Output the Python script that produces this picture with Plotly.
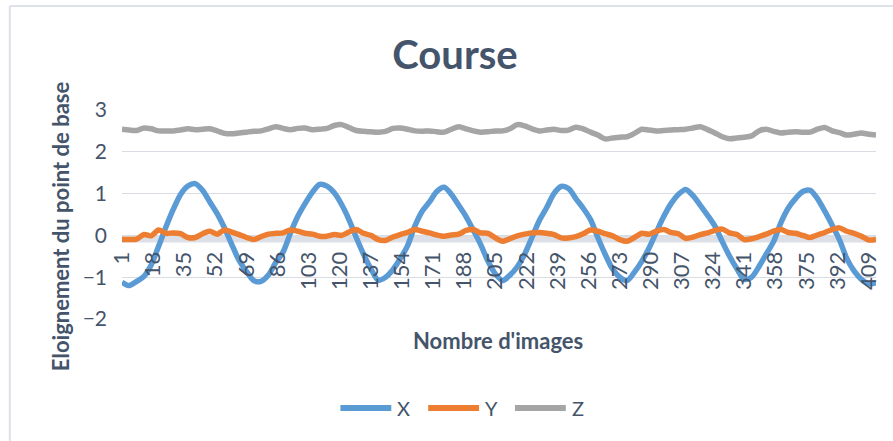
import plotly.graph_objects as go

# Frame numbers (sampled every 4 images) and tick labels of the category axis
frames = list(range(1, 414, 4))
tick_labels = list(range(1, 410, 17))

# Distance to the base point for each axis
x_vals = [
    -1.12, -1.20, -1.10, -0.98, -0.70, -0.26, 0.20, 0.62, 0.98, 1.18,
    1.24, 1.08, 0.80, 0.52, 0.18, -0.22, -0.60, -0.86, -1.08, -1.10,
    -0.95, -0.65, -0.40, 0.05, 0.45, 0.76, 1.03, 1.22, 1.18, 1.02,
    0.74, 0.38, -0.05, -0.45, -0.80, -1.07, -1.00, -0.82, -0.56, -0.25,
    0.22, 0.58, 0.80, 1.05, 1.15, 0.98, 0.72, 0.45, 0.12, -0.22,
    -0.62, -0.92, -1.08, -0.95, -0.75, -0.45, -0.05, 0.35, 0.66, 1.00,
    1.17, 1.12, 0.88, 0.65, 0.38, -0.05, -0.45, -0.80, -1.00, -1.08,
    -0.88, -0.62, -0.30, 0.08, 0.45, 0.76, 0.98, 1.10, 0.95, 0.72,
    0.48, 0.22, -0.15, -0.50, -0.80, -1.05, -1.00, -0.75, -0.45, -0.15,
    0.30, 0.65, 0.88, 1.05, 1.08, 0.88, 0.58, 0.25, -0.10, -0.55,
    -0.85, -1.05, -1.16, -1.13,
]
y_vals = [
    -0.10, -0.10, -0.09, 0.02, -0.01, 0.13, 0.05, 0.06, 0.04, -0.05,
    -0.05, 0.04, 0.10, 0.03, 0.13, 0.08, 0.02, -0.05, -0.10, -0.03,
    0.03, 0.05, 0.06, 0.13, 0.10, 0.05, 0.03, -0.02, -0.02, 0.02,
    0.00, 0.08, 0.14, 0.05, 0.00, -0.10, -0.12, -0.04, 0.02, 0.07,
    0.14, 0.10, 0.06, 0.01, -0.02, 0.01, 0.03, 0.12, 0.14, 0.06,
    0.05, -0.06, -0.14, -0.08, -0.01, 0.03, 0.06, 0.07, 0.05, 0.02,
    -0.06, -0.06, -0.03, 0.04, 0.13, 0.10, 0.04, -0.01, -0.10, -0.14,
    -0.05, 0.05, 0.03, 0.10, 0.14, 0.07, 0.04, -0.07, -0.04, 0.02,
    0.06, 0.12, 0.15, 0.06, 0.02, -0.10, -0.08, -0.03, 0.03, 0.10,
    0.14, 0.07, 0.05, 0.00, -0.05, 0.01, 0.07, 0.14, 0.18, 0.10,
    0.05, -0.02, -0.11, -0.10,
]
z_vals = [
    2.54, 2.52, 2.51, 2.57, 2.55, 2.50, 2.50, 2.50, 2.52, 2.55,
    2.53, 2.54, 2.55, 2.50, 2.44, 2.43, 2.45, 2.47, 2.49, 2.50,
    2.55, 2.60, 2.56, 2.53, 2.56, 2.57, 2.53, 2.54, 2.56, 2.63,
    2.65, 2.58, 2.51, 2.49, 2.48, 2.47, 2.49, 2.56, 2.57, 2.54,
    2.50, 2.49, 2.50, 2.48, 2.47, 2.54, 2.60, 2.55, 2.50, 2.47,
    2.48, 2.50, 2.50, 2.55, 2.65, 2.62, 2.55, 2.50, 2.52, 2.54,
    2.51, 2.52, 2.59, 2.55, 2.47, 2.40, 2.31, 2.33, 2.35, 2.36,
    2.44, 2.54, 2.52, 2.50, 2.51, 2.52, 2.53, 2.54, 2.57, 2.60,
    2.53, 2.45, 2.36, 2.31, 2.33, 2.35, 2.38, 2.50, 2.54, 2.49,
    2.45, 2.47, 2.48, 2.47, 2.47, 2.54, 2.58, 2.50, 2.46, 2.40,
    2.42, 2.45, 2.42, 2.40,
]

series_names = ["X", "Y", "Z"]
series_colors = ["#5B9BD5", "#ED7D31", "#A5A5A5"]
series_values = [x_vals, y_vals, z_vals]

W, H = 893, 441
L, R, T, B = 122, 15, 110, 122
TEXT = "#44546A"
GRID = "#D9DCE3"
FONT = "Lato"

fig = go.Figure()
for name, vals, color in zip(series_names, series_values, series_colors):
    fig.add_trace(go.Scatter(
        x=frames, y=vals, name=name, mode="lines", showlegend=False,
        line=dict(color=color, width=5.5, shape="spline", smoothing=0.8),
    ))

pw = W - L - R
ph = H - T - B


def px_x(p):
    return (p - L) / pw


def px_y(p):
    return (H - B - p) / ph


shapes = [
    # band along the horizontal axis at zero
    dict(type="rect", xref="paper", yref="y", x0=0, x1=1, y0=-0.17, y1=0,
         fillcolor="#DCE0E6", line=dict(width=0), layer="below"),
    # chart frame (top and left edges)
    dict(type="line", xref="paper", yref="paper", x0=px_x(9.5), x1=px_x(W + 20),
         y0=px_y(6), y1=px_y(6), line=dict(color="#DDE1E8", width=2)),
    dict(type="line", xref="paper", yref="paper", x0=px_x(9.5), x1=px_x(9.5),
         y0=px_y(6), y1=px_y(H + 20), line=dict(color="#DDE1E8", width=2)),
]

annotations = [
    dict(text="<b>Nombre d'images</b>", xref="paper", yref="paper",
         x=px_x(499), y=px_y(340), xanchor="center", yanchor="middle",
         showarrow=False, font=dict(family=FONT, size=22, color=TEXT)),
    dict(text="<b>Eloignement du point de base</b>", xref="paper", yref="paper",
         x=px_x(60), y=px_y(226), xanchor="center", yanchor="middle",
         textangle=-90, showarrow=False, font=dict(family=FONT, size=22, color=TEXT)),
]

# legend: long line samples followed by the series name
legend_left = [338, 426, 513]
for name, color, lx in zip(series_names, series_colors, legend_left):
    shapes.append(dict(type="line", xref="paper", yref="paper",
                       x0=px_x(lx + 3), x1=px_x(lx + 54), y0=px_y(408), y1=px_y(408),
                       line=dict(color=color, width=6)))
    annotations.append(dict(text=name, xref="paper", yref="paper",
                            x=px_x(lx + 58), y=px_y(408), xanchor="left", yanchor="middle",
                            showarrow=False, font=dict(family=FONT, size=20, color=TEXT)))

fig.update_layout(
    width=W, height=H,
    margin=dict(l=L, r=R, t=T, b=B),
    paper_bgcolor="white", plot_bgcolor="white",
    font=dict(family=FONT, color=TEXT),
    showlegend=False,
    title=dict(text="<b>Course</b>", x=455 / W, xanchor="center",
               y=1 - 55 / H, yanchor="middle",
               font=dict(family=FONT, size=40, color=TEXT)),
    xaxis=dict(
        range=[1, 413], tickmode="array", tickvals=tick_labels,
        ticktext=[str(t) for t in tick_labels], tickangle=-90,
        showgrid=False, zeroline=False, showline=False, ticks="",
        anchor="free", position=0.4, ticklabelstandoff=11,
        tickfont=dict(family=FONT, size=22, color=TEXT),
    ),
    yaxis=dict(
        range=[-2, 3], tickvals=[-2, -1, 0, 1, 2, 3], showgrid=True,
        gridcolor=GRID, gridwidth=1, zeroline=False, showline=False, ticks="",
        ticklabelstandoff=14, tickfont=dict(family=FONT, size=21, color=TEXT),
    ),
    shapes=shapes,
    annotations=annotations,
)

fig.write_html("out.html")
